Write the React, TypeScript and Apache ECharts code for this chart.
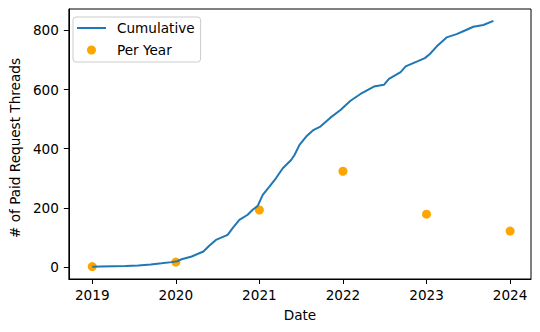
import React, { useEffect, useRef } from "react";
import * as echarts from "echarts";

const cumYears = [
  2019.0, 2019.1, 2019.25, 2019.4, 2019.55, 2019.7, 2019.83, 2019.95, 2020.02, 2020.07,
  2020.19, 2020.33, 2020.4, 2020.48, 2020.62, 2020.68, 2020.76, 2020.86, 2020.92, 2020.98,
  2021.04, 2021.12, 2021.2, 2021.28, 2021.38, 2021.42, 2021.48, 2021.56, 2021.65, 2021.73,
  2021.85, 2021.97, 2022.09, 2022.21, 2022.37, 2022.49, 2022.55, 2022.69, 2022.75, 2022.89,
  2022.98, 2023.04, 2023.12, 2023.24, 2023.36, 2023.48, 2023.56, 2023.68, 2023.8,
];
const cumValues = [
  1, 2, 3, 4, 6, 9, 13, 17, 20, 27,
  36, 53, 72, 92, 109, 132, 160, 177, 194, 207,
  244, 272, 301, 334, 362, 379, 413, 441, 464, 475,
  505, 531, 562, 585, 610, 616, 636, 659, 678, 695,
  706, 720, 745, 776, 787, 802, 812, 818, 832,
];
const yearTicks = [2019, 2020, 2021, 2022, 2023, 2024];
const perYearValues = [2, 17, 193, 324, 179, 122];
const yTicks = [0, 200, 400, 600, 800];

const FONT = "DejaVu Sans";
const FS = 13.6;

export default function App() {
  const ref = useRef<HTMLDivElement>(null);
  useEffect(() => {
    if (!ref.current) return;
    const chart = echarts.init(ref.current, null, { renderer: "svg" });
    chart.setOption({
      animation: false,
      backgroundColor: "#fff",
      grid: {
        left: 67,
        right: 9,
        top: 9,
        bottom: 53,
        show: true,
        borderColor: "#000",
        borderWidth: 1,
        backgroundColor: "transparent",
      },
      legend: {
        left: 73,
        top: 17,
        orient: "vertical",
        itemWidth: 29,
        itemHeight: 9,
        itemGap: 6,
        padding: [3, 6, 4, 4],
        borderColor: "#cccccc",
        borderWidth: 1,
        borderRadius: 3,
        backgroundColor: "rgba(255,255,255,0.8)",
        textStyle: {
          fontFamily: FONT,
          fontSize: FS,
          color: "#000",
          lineHeight: 16,
          padding: [0, 0, 0, 6],
        },
        data: [
          { name: "Cumulative", icon: "path://M0,0L29,0L29,2L0,2Z" },
          { name: "Per Year", icon: "circle" },
        ],
      },
      xAxis: {
        type: "value",
        min: 2018.72,
        max: 2024.25,
        name: "Date",
        nameLocation: "middle",
        nameGap: 29,
        nameTextStyle: { fontFamily: FONT, fontSize: FS, color: "#000" },
        axisLine: { show: true, onZero: false, lineStyle: { color: "#000", width: 1 } },
        axisTick: { show: true, length: 5, lineStyle: { color: "#000" }, customValues: yearTicks },
        axisLabel: {
          fontFamily: FONT,
          fontSize: FS,
          color: "#000",
          margin: 9,
          customValues: yearTicks,
          formatter: (v: number) => String(Math.round(v)),
        },
        splitLine: { show: false },
      },
      yAxis: {
        type: "value",
        min: -40,
        max: 872,
        name: "# of Paid Request Threads",
        nameLocation: "middle",
        nameGap: 46,
        nameTextStyle: { fontFamily: FONT, fontSize: FS, color: "#000", padding: [0, 8, 0, 0] },
        axisLine: { show: true, onZero: false, lineStyle: { color: "#000", width: 1 } },
        axisTick: { show: true, length: 5, lineStyle: { color: "#000" }, customValues: yTicks },
        axisLabel: {
          fontFamily: FONT,
          fontSize: FS,
          color: "#000",
          margin: 10,
          customValues: yTicks,
        },
        splitLine: { show: false },
      },
      series: [
        {
          name: "Cumulative",
          type: "line",
          symbol: "none",
          z: 4,
          data: cumYears.map((y, i) => [y, cumValues[i]]),
          lineStyle: { color: "#1f77b4", width: 2 },
          itemStyle: { color: "#1f77b4" },
        },
        {
          name: "Per Year",
          type: "scatter",
          symbolSize: 9,
          z: 3,
          data: yearTicks.map((y, i) => [y, perYearValues[i]]),
          itemStyle: { color: "#ffa500", opacity: 1 },
        },
      ],
    });
    return () => chart.dispose();
  }, []);
  return (
    <div
      ref={ref}
      style={{ position: "fixed", left: 0, top: 0, width: 540, height: 332, background: "#fff" }}
    />
  );
}
